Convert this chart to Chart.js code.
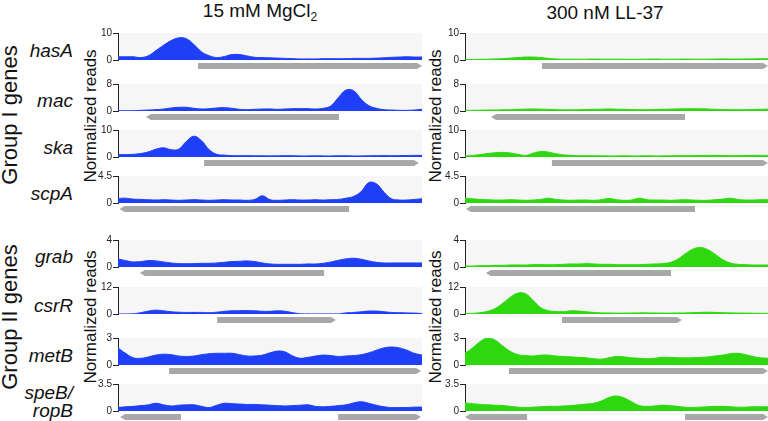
<!DOCTYPE html>
<html lang="en">
<head>
<meta charset="UTF-8">
<title>Normalized reads</title>
<script src="https://cdn.jsdelivr.net/npm/chart.js@4.4.1/dist/chart.umd.min.js"></script>
<style>
    body { margin: 0; width: 768px; height: 421px; background: #fff; position: relative; overflow: hidden;
           font-family: "Liberation Sans", Arial, sans-serif; color: #111; }
    .t { position: absolute; white-space: nowrap; line-height: 1; }
    .title { font-size: 19px; transform: translate(-50%, -50%); }
    .title sub { font-size: 12px; vertical-align: -4px; }
    .gene { font-size: 19px; font-style: italic; transform: translate(-100%, -50%); text-align: right; }
    .rot { transform: translate(-50%, -50%) rotate(-90deg); }
    .group { font-size: 22px; }
    .yl { font-size: 17px; }
    canvas { position: absolute; }
</style>
<script>
    // genome position (% of window) shared by every track
    var positions = [0,2.5,5,7.5,10,12.5,15,17.5,20,22.5,25,27.5,30,32.5,35,37.5,40,42.5,45,47.5,50,
                     52.5,55,57.5,60,62.5,65,67.5,70,72.5,75,77.5,80,82.5,85,87.5,90,92.5,95,97.5,100];

    var genes = ['hasA', 'mac', 'ska', 'scpA', 'grab', 'csrR', 'metB', 'speB/ropB'];
    var yMax  = [10, 8, 10, 4.5, 4, 12, 3, 3.5];

    // 15 mM MgCl2
    var hasAMg  = [1.2,1.2,1.2,0.9,1.6,3.5,5.5,7.2,8.2,7.9,5.7,3.0,1.6,0.9,1.3,2.0,2.0,1.5,1.0,0.9,0.8,0.7,0.6,0.5,0.4,0.4,0.4,0.5,0.5,0.5,0.5,0.6,0.6,0.6,0.7,0.8,1.0,1.1,1.2,1.1,1.1];
    var macMg   = [0.1,0.1,0.1,0.2,0.3,0.4,0.6,0.9,1.1,1.1,0.8,0.6,0.7,0.9,1.0,0.8,0.5,0.4,0.5,0.6,0.6,0.5,0.6,0.7,0.7,0.7,0.6,0.8,1.5,4.0,6.2,6.0,3.5,1.6,0.8,0.4,0.3,0.2,0.2,0.3,0.5];
    var skaMg   = [0.9,0.9,1.0,1.3,1.9,2.9,3.4,2.7,2.9,5.8,7.7,6.0,2.7,1.0,0.7,0.5,0.5,0.5,0.45,0.45,0.4,0.45,0.5,0.45,0.4,0.4,0.45,0.4,0.4,0.45,0.45,0.4,0.4,0.45,0.5,0.5,0.5,0.5,0.55,0.6,0.6];
    var scpAMg  = [0.75,0.8,0.65,0.6,0.55,0.5,0.55,0.5,0.45,0.5,0.55,0.5,0.45,0.5,0.55,0.5,0.5,0.45,0.6,1.2,0.55,0.45,0.5,0.55,0.5,0.5,0.55,0.5,0.55,0.6,0.8,1.1,1.9,3.4,3.2,1.8,0.7,0.5,0.5,0.6,0.7];
    var grabMg  = [1.2,0.95,0.75,0.8,0.95,0.9,0.75,0.6,0.5,0.5,0.5,0.55,0.55,0.6,0.7,0.8,0.85,0.9,0.8,0.6,0.45,0.4,0.4,0.4,0.4,0.45,0.45,0.55,0.75,1.0,1.2,1.3,1.15,0.9,0.7,0.6,0.6,0.6,0.6,0.6,0.6];
    var csrRMg  = [0.05,0.05,0.1,0.6,1.3,1.7,1.4,1.0,0.8,0.7,0.7,0.7,0.6,0.8,1.2,1.4,1.5,1.5,1.4,1.2,1.2,1.4,1.2,0.6,0.1,0.05,0.05,0.05,0.05,0.05,0.5,0.7,1.0,1.3,1.3,1.0,0.7,0.6,0.5,0.4,0.2];
    var metBMg  = [1.9,1.3,0.8,0.75,0.9,1.1,1.2,1.15,1.0,0.95,1.0,1.15,1.25,1.3,1.3,1.3,1.15,1.0,1.0,1.1,1.35,1.55,1.45,1.0,0.75,0.85,1.0,1.1,1.05,0.95,1.0,1.05,1.15,1.35,1.65,1.9,2.0,1.9,1.65,1.3,1.1];
    var speBMg  = [0.45,0.55,0.6,0.7,0.8,1.0,0.8,0.65,0.75,0.8,0.8,0.6,0.45,0.75,1.0,0.95,0.9,0.85,0.85,0.8,0.75,0.7,0.65,0.7,0.75,0.8,0.6,0.55,0.6,0.7,0.8,1.05,1.2,1.0,0.75,0.55,0.45,0.45,0.45,0.5,0.5];

    // 300 nM LL-37
    var hasALL  = [0.2,0.2,0.25,0.3,0.4,0.5,0.7,0.9,1.1,1.1,0.9,0.6,0.4,0.3,0.3,0.3,0.3,0.35,0.3,0.3,0.3,0.3,0.25,0.3,0.3,0.35,0.3,0.3,0.3,0.35,0.3,0.3,0.3,0.35,0.4,0.35,0.35,0.4,0.4,0.45,0.45];
    var macLL   = [0.2,0.2,0.25,0.3,0.3,0.35,0.4,0.5,0.55,0.6,0.55,0.5,0.4,0.35,0.35,0.4,0.45,0.5,0.55,0.6,0.55,0.5,0.45,0.4,0.4,0.45,0.5,0.55,0.6,0.65,0.7,0.65,0.6,0.5,0.45,0.4,0.4,0.4,0.45,0.5,0.55];
    var skaLL   = [0.4,0.6,0.9,1.3,1.6,1.7,1.5,1.0,0.6,1.4,2.0,1.8,1.2,0.8,0.6,0.5,0.5,0.45,0.45,0.4,0.4,0.45,0.4,0.4,0.45,0.4,0.4,0.45,0.5,0.5,0.5,0.55,0.6,0.6,0.55,0.5,0.5,0.55,0.6,0.6,0.6];
    var scpALL  = [0.8,0.7,0.6,0.55,0.5,0.5,0.55,0.5,0.45,0.5,0.6,0.8,0.6,0.5,0.45,0.5,0.5,0.45,0.55,0.75,0.55,0.45,0.5,0.8,0.55,0.5,0.5,0.45,0.5,0.55,0.5,0.45,0.45,0.55,0.65,0.8,0.6,0.5,0.5,0.55,0.55];
    var grabLL  = [0.15,0.15,0.2,0.2,0.25,0.25,0.3,0.3,0.3,0.35,0.35,0.35,0.35,0.4,0.45,0.45,0.5,0.45,0.4,0.4,0.35,0.35,0.35,0.35,0.4,0.45,0.5,0.65,1.1,1.9,2.6,2.9,2.6,1.9,1.1,0.6,0.4,0.35,0.3,0.3,0.3];
    var csrRLL  = [0.2,0.3,0.6,1.2,2.5,4.8,7.5,9.3,9.0,6.0,2.8,1.5,1.1,1.0,1.4,1.3,1.0,0.7,0.5,0.45,0.4,0.4,0.45,0.5,0.5,0.45,0.4,0.4,0.45,0.5,0.6,0.7,0.8,0.7,0.6,0.5,0.45,0.4,0.35,0.3,0.3];
    var metBLL  = [1.3,1.9,2.6,3.0,2.75,2.1,1.5,1.15,1.05,1.0,1.1,1.1,1.0,0.95,0.9,0.85,0.8,0.7,0.65,0.8,0.95,0.9,0.8,0.75,0.7,0.75,0.85,0.85,0.8,0.8,0.8,0.85,0.9,1.0,1.1,1.25,1.3,1.15,0.95,0.8,0.75];
    var speBLL  = [1.05,0.95,0.85,0.8,0.75,0.7,0.6,0.5,0.45,0.5,0.55,0.6,0.6,0.65,0.7,0.8,0.9,1.0,1.3,1.75,1.95,1.7,1.2,0.7,0.6,0.65,0.75,0.7,0.6,0.5,0.45,0.5,0.55,0.6,0.6,0.55,0.5,0.5,0.55,0.55,0.55];

    // gene bodies under each track: [start %, end %, strand]
    var genesMg = [[[26.3,100,1]], [[9.2,72.7,-1]], [[28.3,99,1]], [[0.5,76,-1]],
                   [[7.2,67.8,-1]], [[32.6,71.7,1]], [[16.8,99.7,1]], [[0.7,20.7,-1],[72.4,99.7,1]]];
    var genesLL = [[[25.4,100,1]], [[8.6,72.6,-1]], [[28.7,100,1]], [[0.3,75.9,-1]],
                   [[6.9,68,-1]], [[32,71.6,1]], [[14.5,100,1]], [[0,20.5,-1],[72.6,100,1]]];

    var seriesMg = [hasAMg, macMg, skaMg, scpAMg, grabMg, csrRMg, metBMg, speBMg];
    var seriesLL = [hasALL, macLL, skaLL, scpALL, grabLL, csrRLL, metBLL, speBLL];

    var rowTops = [33, 84, 130, 176, 240, 287, 338, 384];
    var PLOT_H = 27, AXIS_W = 30, PAD_T = 7, PAD_B = 13;

    var trackBg = {
        id: 'trackBg',
        beforeDraw: function (chart) {
            var a = chart.chartArea, ctx = chart.ctx;
            ctx.save();
            ctx.fillStyle = '#f6f6f6';
            ctx.fillRect(a.left, a.top, a.right - a.left, a.bottom - a.top);
            ctx.restore();
        }
    };

    var geneArrows = {
        id: 'geneArrows',
        afterDraw: function (chart, args, opts) {
            var x = chart.scales.x, ctx = chart.ctx;
            var y0 = chart.chartArea.bottom + 3, h = 6, tip = 5;
            ctx.save();
            ctx.fillStyle = '#a8a8aa';
            (opts.items || []).forEach(function (g) {
                var a = x.getPixelForValue(g[0]), b = x.getPixelForValue(g[1]);
                ctx.beginPath();
                if (g[2] > 0) {
                    ctx.moveTo(a, y0); ctx.lineTo(b - tip, y0); ctx.lineTo(b, y0 + h / 2);
                    ctx.lineTo(b - tip, y0 + h); ctx.lineTo(a, y0 + h);
                } else {
                    ctx.moveTo(a, y0 + h / 2); ctx.lineTo(a + tip, y0); ctx.lineTo(b, y0);
                    ctx.lineTo(b, y0 + h); ctx.lineTo(a + tip, y0 + h);
                }
                ctx.closePath();
                ctx.fill();
            });
            ctx.restore();
        }
    };

    function makeTrack(left, right, top, values, max, arrows, color) {
        var cv = document.createElement('canvas');
        var w = right - left + AXIS_W, h = PAD_T + PLOT_H + PAD_B;
        cv.width = w; cv.height = h;
        cv.style.left = (left - AXIS_W) + 'px';
        cv.style.top = (top - PAD_T) + 'px';
        cv.style.width = w + 'px'; cv.style.height = h + 'px';
        document.body.appendChild(cv);

        var pts = positions.map(function (p, i) { return { x: p, y: values[i] }; });
        new Chart(cv, {
            type: 'line',
            data: { datasets: [{ data: pts, fill: 'origin', backgroundColor: color, borderColor: color,
                                 borderWidth: 1, pointRadius: 0, tension: 0.4 }] },
            options: {
                responsive: false, animation: false,
                layout: { padding: { top: PAD_T, bottom: PAD_B, left: 0, right: 0 } },
                plugins: { legend: { display: false }, tooltip: { enabled: false }, geneArrows: { items: arrows } },
                scales: {
                    x: { type: 'linear', min: 0, max: 100, display: false },
                    y: {
                        min: 0, max: max,
                        afterBuildTicks: function (s) { s.ticks = [{ value: 0 }, { value: max }]; },
                        afterFit: function (s) { s.width = AXIS_W; },
                        grid: { drawOnChartArea: false, tickLength: 5, color: '#222' },
                        border: { color: '#222', width: 1 },
                        ticks: { color: '#222', padding: 1, font: { size: 10, family: '"Liberation Sans", Arial' },
                                 callback: function (v) { return String(v); } }
                    }
                }
            },
            plugins: [trackBg, geneArrows]
        });
    }

    window.onload = function () {
        for (var r = 0; r < genes.length; r++) {
            makeTrack(118, 422, rowTops[r], seriesMg[r], yMax[r], genesMg[r], '#1f3ff6');
            makeTrack(465, 768, rowTops[r], seriesLL[r], yMax[r], genesLL[r], '#2ed80f');
        }
    };
</script>
</head>
<body>
    <div class="t title" style="left:260px; top:12px;">15 mM MgCl<sub>2</sub></div>
    <div class="t title" style="left:605px; top:12px;">300 nM LL-37</div>

    <div class="t rot group" style="left:10px; top:115px;">Group I genes</div>
    <div class="t rot group" style="left:10px; top:317px;">Group II genes</div>

    <div class="t rot yl" style="left:90px; top:116px;">Normalized reads</div>
    <div class="t rot yl" style="left:90px; top:317px;">Normalized reads</div>
    <div class="t rot yl" style="left:435px; top:116px;">Normalized reads</div>
    <div class="t rot yl" style="left:435px; top:317px;">Normalized reads</div>

    <div class="t gene" style="left:73px; top:50px;">hasA</div>
    <div class="t gene" style="left:73px; top:100px;">mac</div>
    <div class="t gene" style="left:73px; top:147px;">ska</div>
    <div class="t gene" style="left:73px; top:193px;">scpA</div>
    <div class="t gene" style="left:73px; top:256px;">grab</div>
    <div class="t gene" style="left:73px; top:305px;">csrR</div>
    <div class="t gene" style="left:73px; top:355px;">metB</div>
    <div class="t gene" style="left:73px; top:402px; line-height:18px;">speB/<br>ropB</div>
</body>
</html>
